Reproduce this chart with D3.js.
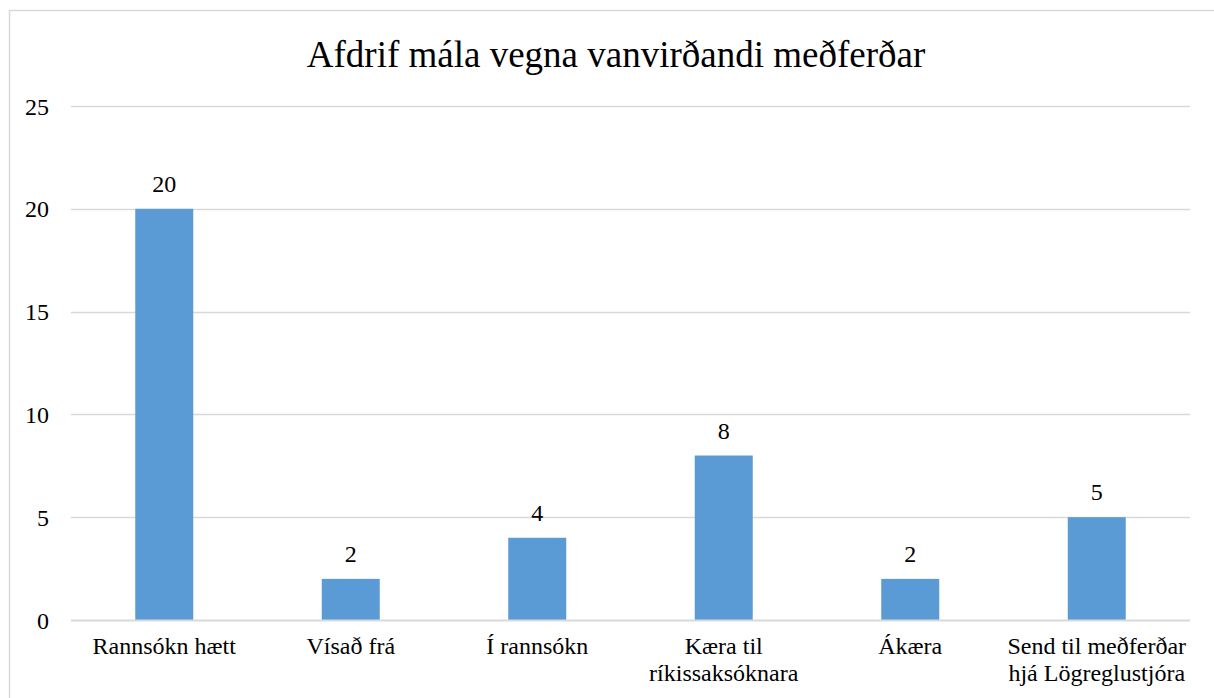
<!DOCTYPE html>
<html><head><meta charset="utf-8">
<script src="https://cdn.jsdelivr.net/npm/d3@7"></script>
<style>body{margin:0;background:#fff}svg{display:block}</style>
</head><body><svg id="c" width="1214" height="698"></svg>
<script>
const categories = ["Rannsókn hætt","Vísað frá","Í rannsókn","Kæra til|ríkissaksóknara","Ákæra","Send til meðferðar|hjá Lögreglustjóra"];
const values = [20,2,4,8,2,5];
const yTicks = [0,5,10,15,20,25];
const title = "Afdrif mála vegna vanvirðandi meðferðar";

const FONT = "'Liberation Serif','Times New Roman',serif";
const svg = d3.select("#c").style("font-family",FONT);
svg.append("rect").attr("x",9.5).attr("y",10.5).attr("width",1210).attr("height",700).attr("fill","#fff").attr("stroke","#d9d9d9").attr("stroke-width",1.5);

const L=71, R=1190, T=106, B=620;
const x = d3.scaleBand().domain(categories).range([L,R]);
const y = d3.scaleLinear().domain([0,25]).range([B,T]);

svg.append("text").attr("x",616).attr("y",67).attr("text-anchor","middle")
  .style("font-family",FONT).style("font-size","37px").attr("fill","#000").text(title);

const grid = svg.append("g");
grid.selectAll("line").data(yTicks.filter(d=>d>0)).join("line")
  .attr("x1",L).attr("x2",R).attr("y1",d=>Math.round(y(d))+0.5).attr("y2",d=>Math.round(y(d))+0.5)
  .attr("stroke","#d9d9d9").attr("stroke-width",1.5);

const yAxis = svg.append("g").attr("transform",`translate(${L},0)`)
  .call(d3.axisLeft(y).tickValues(yTicks).tickSize(0).tickPadding(22));
yAxis.attr("font-family",FONT).attr("font-size",null);
yAxis.select(".domain").remove();
yAxis.selectAll("text").style("font-family",FONT).style("font-size","24px").attr("fill","#000").attr("dy","0.34em");

const bw = 58;
svg.selectAll("rect.bar").data(values).join("rect").attr("class","bar")
  .attr("x",(d,i)=>x(categories[i])+x.bandwidth()/2-bw/2)
  .attr("width",bw)
  .attr("y",d=>y(d)).attr("height",d=>B-y(d)).attr("fill","#5b9bd5");

svg.selectAll("text.val").data(values).join("text").attr("class","val")
  .attr("x",(d,i)=>x(categories[i])+x.bandwidth()/2)
  .attr("y",d=>y(d)-17).attr("text-anchor","middle")
  .style("font-family",FONT).style("font-size","24px").attr("fill","#000").text(d=>d);

svg.append("line").attr("x1",L).attr("x2",R).attr("y1",B+0.5).attr("y2",B+0.5).attr("stroke","#d9d9d9").attr("stroke-width",2);

const xl = svg.selectAll("text.cat").data(categories).join("text").attr("class","cat")
  .attr("x",d=>x(d)+x.bandwidth()/2).attr("y",654).attr("text-anchor","middle")
  .style("font-family",FONT).style("font-size","24px").attr("fill","#000");
xl.each(function(d){
  const parts=d.split("|");
  d3.select(this).selectAll("tspan").data(parts).join("tspan")
    .attr("x",x(d)+x.bandwidth()/2).attr("dy",(p,i)=>i?"27px":0).text(p=>p);
});
</script></body></html>
